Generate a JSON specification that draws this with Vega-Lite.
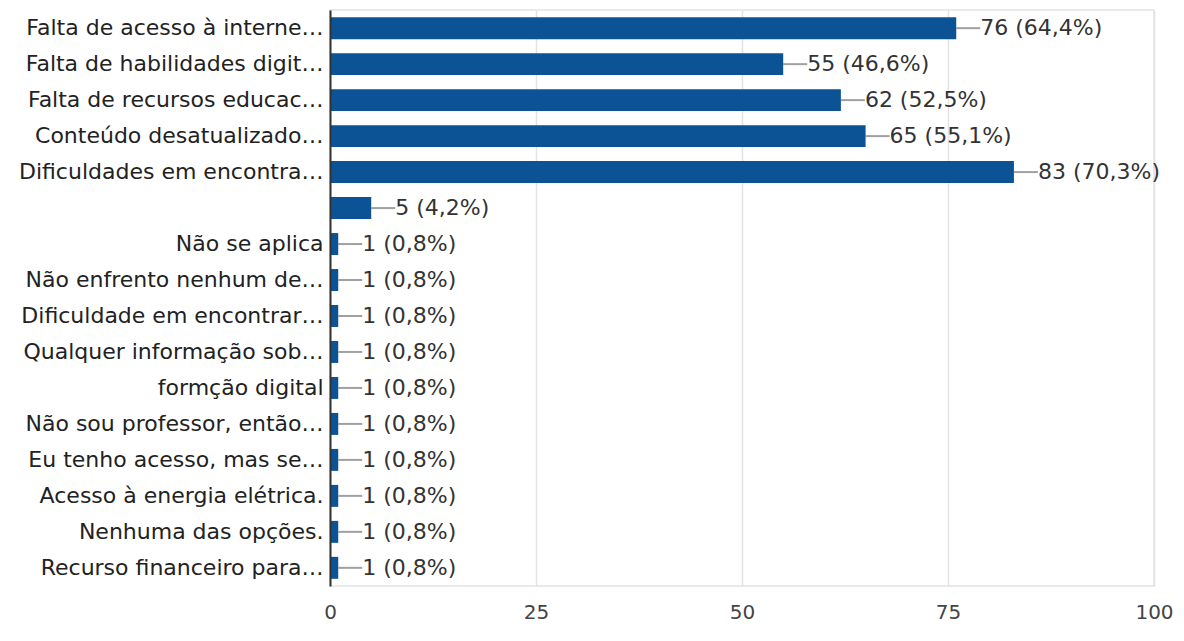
{
  "$schema": "https://vega.github.io/schema/vega-lite/v6.json",
  "width": 824,
  "height": 576,
  "autosize": "none",
  "padding": {"left": 330, "top": 10, "right": 30, "bottom": 55},
  "background": "white",
  "config": {
    "font": "DejaVu Sans",
    "view": {"stroke": "#e3e3e3", "strokeWidth": 1.5}
  },
  "data": {
    "values": [
      {"opcao": "Falta de acesso à interne…", "n": 76, "rotulo": "76 (64,4%)", "ordem": 1},
      {"opcao": "Falta de habilidades digit…", "n": 55, "rotulo": "55 (46,6%)", "ordem": 2},
      {"opcao": "Falta de recursos educac…", "n": 62, "rotulo": "62 (52,5%)", "ordem": 3},
      {"opcao": "Conteúdo desatualizado…", "n": 65, "rotulo": "65 (55,1%)", "ordem": 4},
      {"opcao": "Dificuldades em encontra…", "n": 83, "rotulo": "83 (70,3%)", "ordem": 5},
      {"opcao": " ", "n": 5, "rotulo": "5 (4,2%)", "ordem": 6},
      {"opcao": "Não se aplica", "n": 1, "rotulo": "1 (0,8%)", "ordem": 7},
      {"opcao": "Não enfrento nenhum de…", "n": 1, "rotulo": "1 (0,8%)", "ordem": 8},
      {"opcao": "Dificuldade em encontrar…", "n": 1, "rotulo": "1 (0,8%)", "ordem": 9},
      {"opcao": "Qualquer informação sob…", "n": 1, "rotulo": "1 (0,8%)", "ordem": 10},
      {"opcao": "formção digital", "n": 1, "rotulo": "1 (0,8%)", "ordem": 11},
      {"opcao": "Não sou professor, então…", "n": 1, "rotulo": "1 (0,8%)", "ordem": 12},
      {"opcao": "Eu tenho acesso, mas se…", "n": 1, "rotulo": "1 (0,8%)", "ordem": 13},
      {"opcao": "Acesso à energia elétrica.", "n": 1, "rotulo": "1 (0,8%)", "ordem": 14},
      {"opcao": "Nenhuma das opções.", "n": 1, "rotulo": "1 (0,8%)", "ordem": 15},
      {"opcao": "Recurso financeiro para…", "n": 1, "rotulo": "1 (0,8%)", "ordem": 16}
    ]
  },
  "encoding": {
    "y": {
      "field": "opcao",
      "type": "nominal",
      "sort": null,
      "scale": {"paddingInner": 0.39, "paddingOuter": 0.2},
      "axis": {
        "title": null,
        "ticks": false,
        "domain": true,
        "domainColor": "#333333",
        "domainWidth": 2,
        "labelFontSize": 22,
        "labelColor": "#222222",
        "labelPadding": 7,
        "labelLimit": 400,
        "zindex": 2
      }
    },
    "x": {
      "field": "n",
      "type": "quantitative",
      "scale": {"domain": [0, 100], "nice": false},
      "axis": {
        "title": null,
        "values": [0, 25, 50, 75, 100],
        "domain": false,
        "ticks": false,
        "grid": true,
        "gridColor": "#e3e3e3",
        "gridWidth": 1.5,
        "labelFontSize": 20,
        "labelColor": "#444444",
        "labelPadding": 16,
        "labelFlush": false
      }
    }
  },
  "layer": [
    {"mark": {"type": "bar", "color": "#0b5394"}},
    {
      "mark": {"type": "tick", "orient": "horizontal", "size": 24, "xOffset": 12, "thickness": 2, "color": "#777777"}
    },
    {
      "mark": {"type": "text", "align": "left", "baseline": "middle", "dx": 24, "fontSize": 22, "color": "#333333"},
      "encoding": {"text": {"field": "rotulo"}}
    }
  ]
}
